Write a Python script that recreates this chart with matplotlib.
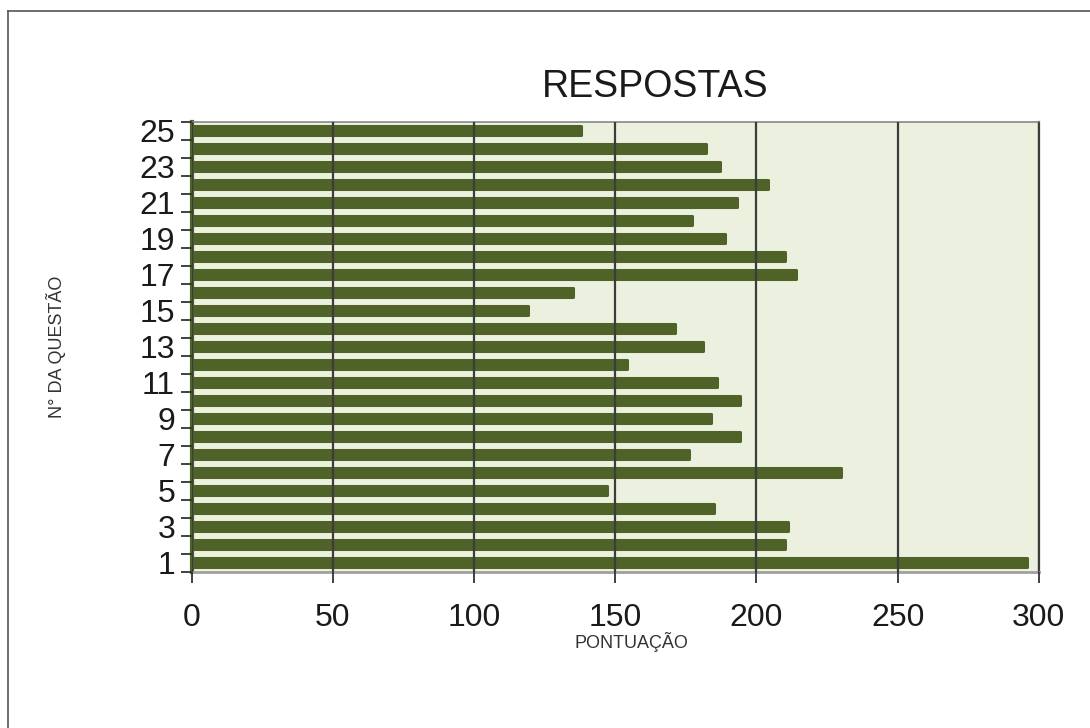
import matplotlib.pyplot as plt
from matplotlib.lines import Line2D

plt.rcParams['font.family'] = ['Liberation Sans', 'DejaVu Sans']

questoes = list(range(1, 26))
pontuacao = [296, 210, 211, 185, 147, 230, 176, 194, 184, 194,
             186, 154, 181, 171, 119, 135, 214, 210, 189, 177,
             193, 204, 187, 182, 138]
xticks = [0, 50, 100, 150, 200, 250, 300]

fig = plt.figure(figsize=(10.9, 7.28), dpi=100)
ax = fig.add_axes([0.176, 0.2143, 0.777, 0.6183])

ax.set_facecolor('#EBF1DE')
ax.barh(questoes, pontuacao, height=0.5, color='#4F6228',
        edgecolor='#4F6228', linewidth=2.2, joinstyle='round', zorder=2)

ax.set_xlim(0, 300)
ax.set_ylim(0.5, 25.5)
ax.set_xticks(xticks)
ax.set_xticklabels([str(v) for v in xticks], fontsize=23, color='#1a1a1a')

# category axis: ticks between bars, labels on odd questions
ax.set_yticks([q + 0.5 for q in range(0, 26)])
ax.set_yticklabels([])
ax.set_yticks(questoes[::2], minor=True)
ax.set_yticklabels([str(q) for q in questoes[::2]], minor=True,
                   fontsize=23, color='#1a1a1a')
ax.tick_params(axis='y', which='minor', length=0, pad=12)
ax.tick_params(axis='y', which='major', length=8, width=1.3, color='#333333')
ax.tick_params(axis='x', length=8, width=1.3, color='#333333', pad=14)

ax.xaxis.grid(True, color='#3c3c3c', linewidth=1.6, zorder=3)
ax.set_axisbelow(False)

ax.spines['left'].set_color('#4F6228')
ax.spines['left'].set_linewidth(3)
ax.spines['bottom'].set_color('#a0a0a0')
ax.spines['bottom'].set_linewidth(2)
ax.spines['top'].set_color('#888888')
ax.spines['top'].set_linewidth(1.2)
ax.spines['right'].set_color('#3c3c3c')
ax.spines['right'].set_linewidth(1.6)

ax.set_title('RESPOSTAS', fontsize=27, color='#1a1a1a', pad=18, x=0.547)
ax.set_xlabel('PONTUAÇÃO', fontsize=13, color='#333333')
ax.xaxis.set_label_coords(0.519, -0.133)
ax.set_ylabel('N° DA QUESTÃO', fontsize=13, color='#333333')
ax.yaxis.set_label_coords(-0.148, 0.5)

# frame around the chart
fig.add_artist(Line2D([0.0075, 0.0075], [0.0, 0.985], transform=fig.transFigure,
                      color='#555555', linewidth=1.2))
fig.add_artist(Line2D([0.0075, 1.0], [0.985, 0.985], transform=fig.transFigure,
                      color='#555555', linewidth=1.2))

fig.savefig('out.png', dpi=100)
